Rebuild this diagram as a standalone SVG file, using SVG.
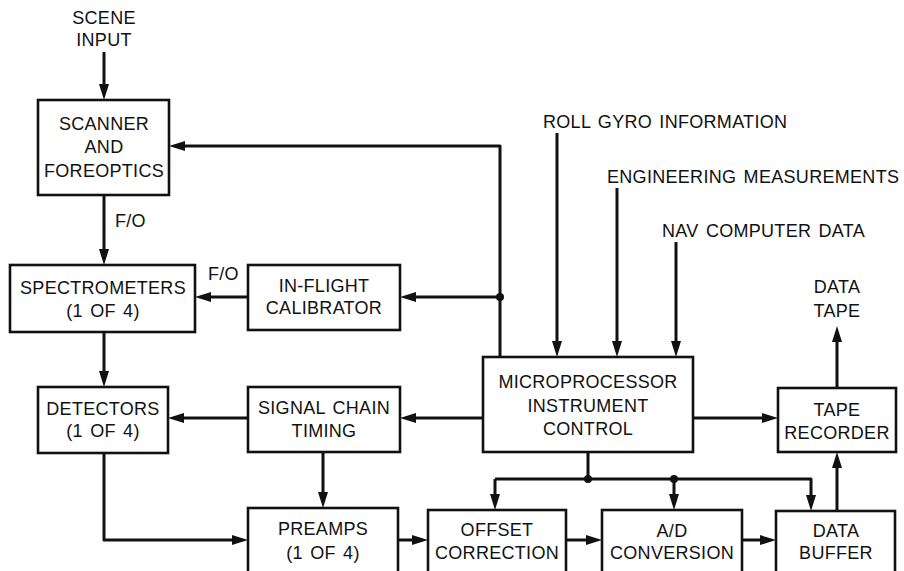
<svg xmlns="http://www.w3.org/2000/svg" width="904" height="571" viewBox="0 0 904 571">
<style>
  .box { fill: #fff; stroke: #111; stroke-width: 2.6; }
  text { font-family: "Liberation Sans", Arial, sans-serif; font-size: 18px; fill: #111; text-anchor: middle; letter-spacing: 0.3px; word-spacing: 2px; }
  .lbl { text-anchor: start; }
  .c { fill: none; stroke: #111; stroke-width: 3; stroke-linejoin: round; }
  .a { marker-end: url(#ah); }
  .dot { fill: #111; }
</style>
<defs>
  <marker id="ah" markerUnits="userSpaceOnUse" markerWidth="18" markerHeight="12" refX="8" refY="5" orient="auto">
    <path d="M0,0 L16,5 L0,10 z" fill="#111"/>
  </marker>
</defs>
<rect width="904" height="571" fill="#fff"/>

<g id="labels">
  <text x="104" y="24">SCENE</text>
  <text x="104" y="46">INPUT</text>
  <text class="lbl" x="115" y="227">F/O</text>
  <text class="lbl" x="208" y="280">F/O</text>
  <text x="837" y="293">DATA</text>
  <text x="837" y="317">TAPE</text>
  <text class="lbl" x="543" y="128">ROLL GYRO INFORMATION</text>
  <text class="lbl" x="607" y="183">ENGINEERING MEASUREMENTS</text>
  <text class="lbl" x="662" y="237">NAV COMPUTER DATA</text>
</g>

<g id="connectors">
  <path class="c a" d="M104,52 V92"/>
  <path class="c a" d="M104,195 V257"/>
  <path class="c a" d="M104,332 V379"/>
  <path class="c a" d="M104,453 V540 H240"/>
  <path class="c a" d="M248,297 H203"/>
  <path class="c a" d="M500,357 V146 H177"/>
  <path class="c a" d="M500,297 H408"/>
  <path class="c a" d="M483,418 H408"/>
  <path class="c a" d="M248,418 H176"/>
  <path class="c a" d="M323,452 V500"/>
  <path class="c a" d="M557,133 V349"/>
  <path class="c a" d="M617,188 V349"/>
  <path class="c a" d="M676,242 V349"/>
  <path class="c a" d="M693,418 H770"/>
  <path class="c a" d="M837,388 V334"/>
  <path class="c a" d="M837,511 V460"/>
  <path class="c" d="M588,452 V479"/>
  <path class="c a" d="M495,479 H811 V503"/>
  <path class="c a" d="M495,479 V502"/>
  <path class="c a" d="M674,479 V502"/>
  <path class="c a" d="M398,540 H420"/>
  <path class="c a" d="M566,540 H594"/>
  <path class="c a" d="M742,540 H768"/>
  <circle class="dot" cx="500" cy="297" r="4"/>
  <circle class="dot" cx="588" cy="479" r="4"/>
  <circle class="dot" cx="674" cy="479" r="4"/>
</g>

<g id="scanner">
  <rect class="box" x="38" y="100" width="131" height="95"/>
  <text x="104" y="130">SCANNER</text>
  <text x="104" y="153">AND</text>
  <text x="104" y="177">FOREOPTICS</text>
</g>
<g id="spectrometers">
  <rect class="box" x="10" y="265" width="185" height="67"/>
  <text x="103" y="294">SPECTROMETERS</text>
  <text x="103" y="317">(1 OF 4)</text>
</g>
<g id="calibrator">
  <rect class="box" x="248" y="265" width="152" height="65"/>
  <text x="324" y="292">IN-FLIGHT</text>
  <text x="324" y="314">CALIBRATOR</text>
</g>
<g id="detectors">
  <rect class="box" x="38" y="387" width="130" height="66"/>
  <text x="103" y="415">DETECTORS</text>
  <text x="103" y="437">(1 OF 4)</text>
</g>
<g id="signal-chain">
  <rect class="box" x="248" y="387" width="152" height="65"/>
  <text x="324" y="414">SIGNAL CHAIN</text>
  <text x="324" y="437">TIMING</text>
</g>
<g id="microprocessor">
  <rect class="box" x="483" y="357" width="210" height="95"/>
  <text x="588" y="388">MICROPROCESSOR</text>
  <text x="588" y="412">INSTRUMENT</text>
  <text x="588" y="435">CONTROL</text>
</g>
<g id="tape-recorder">
  <rect class="box" x="778" y="388" width="118" height="64"/>
  <text x="837" y="416">TAPE</text>
  <text x="837" y="439">RECORDER</text>
</g>
<g id="preamps">
  <rect class="box" x="248" y="508" width="150" height="72"/>
  <text x="323" y="535">PREAMPS</text>
  <text x="323" y="559">(1 OF 4)</text>
</g>
<g id="offset">
  <rect class="box" x="428" y="510" width="138" height="70"/>
  <text x="497" y="536">OFFSET</text>
  <text x="497" y="559">CORRECTION</text>
</g>
<g id="ad">
  <rect class="box" x="602" y="510" width="140" height="70"/>
  <text x="672" y="537">A/D</text>
  <text x="672" y="559">CONVERSION</text>
</g>
<g id="data-buffer">
  <rect class="box" x="776" y="511" width="119" height="69"/>
  <text x="836" y="537">DATA</text>
  <text x="836" y="559">BUFFER</text>
</g>
</svg>
